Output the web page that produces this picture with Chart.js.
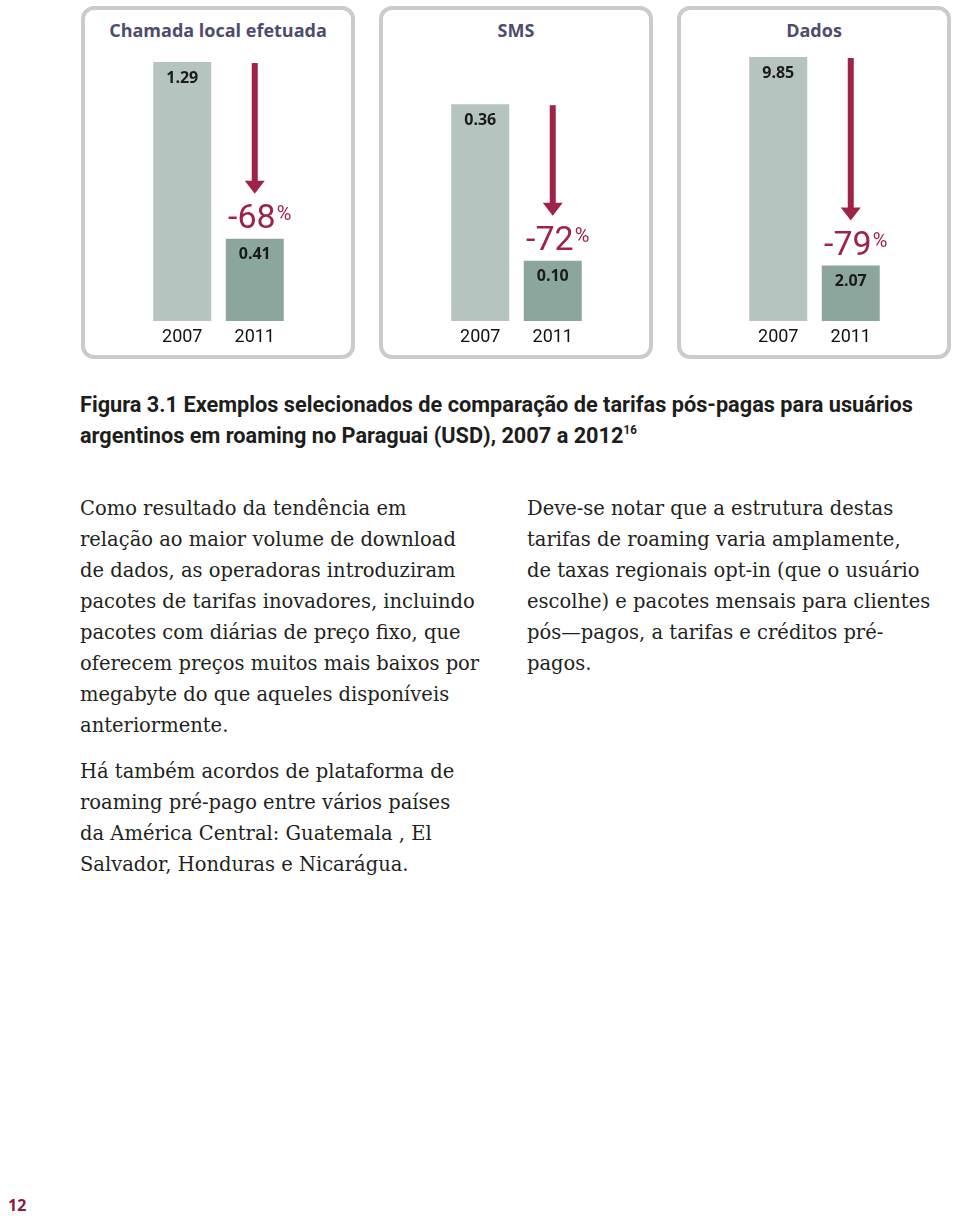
<!DOCTYPE html>
<html>
<head>
<meta charset="utf-8">
<script src="https://cdn.jsdelivr.net/npm/chart.js"></script>
<style>
  body { margin: 0; background: #fff; }
  #page { position: relative; width: 960px; height: 1218px; overflow: hidden; }
  .panel {
    position: absolute; top: 6px; width: 274px; height: 353px;
    box-sizing: border-box; border: 4px solid #c9cbce; border-radius: 13px;
  }
  .panel-title {
    position: absolute; top: 17px; width: 274px; text-align: center;
    font: bold 18px "Open Sans"; line-height: 26px; color: #4d4c6d;
  }
  canvas { position: absolute; top: 0; }
  #caption {
    position: absolute; left: 80px; top: 389px; white-space: nowrap;
    font: bold 22.5px Roboto; line-height: 31px; color: #1d1d1b;
    transform-origin: 0 0;
  }
  #caption span { display: inline-block; }
  #caption sup { font-size: 12px; vertical-align: 9px; line-height: 0; }
  .body {
    position: absolute; top: 493px; white-space: nowrap;
    font: 19.5px "DejaVu Serif"; line-height: 31px; color: #231f20;
  }
  .body p { margin: 0 0 15px 0; }
  #pageno {
    position: absolute; left: 8px; top: 1194px;
    font: bold 16px "Open Sans"; color: #8b1a3e;
  }
</style>
</head>
<body>
<div id="page">
  <div id="charts"></div>
  <div id="caption"><span id="cap1">Figura 3.1 Exemplos selecionados de comparação de tarifas pós-pagas para usuários</span><br>argentinos em roaming no Paraguai (USD), 2007 a 2012<sup>16</sup></div>
  <div class="body" style="left:80px">
    <p>Como resultado da tendência em<br>relação ao maior volume de download<br>de dados, as operadoras introduziram<br>pacotes de tarifas inovadores, incluindo<br>pacotes com diárias de preço fixo, que<br>oferecem preços muitos mais baixos por<br>megabyte do que aqueles disponíveis<br>anteriormente.</p>
    <p>Há também acordos de plataforma de<br>roaming pré-pago entre vários países<br>da América Central: Guatemala , El<br>Salvador, Honduras e Nicarágua.</p>
  </div>
  <div class="body" style="left:527px">
    <p>Deve-se notar que a estrutura destas<br>tarifas de roaming varia amplamente,<br>de taxas regionais opt-in (que o usuário<br>escolhe) e pacotes mensais para clientes<br>pós—pagos, a tarifas e créditos pré-<br>pagos.</p>
  </div>
  <div id="pageno">12</div>
</div>
<script>
const panelTitles = ["Chamada local efetuada", "SMS", "Dados"];
const years = ["2007", "2011"];
const rates2007 = [1.29, 0.36, 9.85];
const rates2011 = [0.41, 0.10, 2.07];
const yMax = [1.35, 0.45, 10.11];

const panelLeft = [81, 379, 677];
const red = "#9e2347";
const barColors = ["#b5c4bf", "#8ba69c"];

// condensed look for the caption: squeeze the first line to its width in the print
const cap = document.getElementById("caption");
const capWidth = document.getElementById("cap1").getBoundingClientRect().width;
cap.style.transform = "scaleX(" + (833 / capWidth) + ")";

// value labels inside the bars, the red arrow and the % change
const barNotes = {
  id: "barNotes",
  afterDatasetsDraw(chart) {
    const ctx = chart.ctx;
    const bars = chart.getDatasetMeta(0).data;
    const values = chart.data.datasets[0].data;
    ctx.save();
    ctx.font = "bold 16px 'Open Sans'";
    ctx.fillStyle = "#1a1a1a";
    ctx.textAlign = "center";
    ctx.textBaseline = "middle";
    bars.forEach((bar, i) => ctx.fillText(values[i].toFixed(2), bar.x, bar.y + 16));

    const x = bars[1].x;
    const top = bars[0].y + 1;
    const tip = bars[1].y - 45;
    ctx.fillStyle = red;
    ctx.fillRect(x - 3, top, 6, tip - top - 12);
    ctx.beginPath();
    ctx.moveTo(x - 10, tip - 13);
    ctx.lineTo(x + 10, tip - 13);
    ctx.lineTo(x, tip);
    ctx.closePath();
    ctx.fill();

    const change = String(Math.round((values[1] / values[0] - 1) * 100));
    ctx.textAlign = "left";
    ctx.textBaseline = "alphabetic";
    ctx.font = "34px Roboto";
    const w1 = ctx.measureText(change).width;
    ctx.font = "20px Roboto";
    const w2 = ctx.measureText("%").width;
    const start = x + 5 - (w1 + w2 + 1) / 2;
    const base = bars[1].y - 11;
    ctx.font = "34px Roboto";
    ctx.fillText(change, start, base);
    ctx.font = "20px Roboto";
    ctx.fillText("%", start + w1 + 1, base - 8);
    ctx.restore();
  }
};

const holder = document.getElementById("charts");
panelTitles.forEach((title, i) => {
  const panel = document.createElement("div");
  panel.className = "panel";
  panel.style.left = panelLeft[i] + "px";
  holder.appendChild(panel);

  const head = document.createElement("div");
  head.className = "panel-title";
  head.style.left = panelLeft[i] + "px";
  head.textContent = title;
  holder.appendChild(head);

  const canvas = document.createElement("canvas");
  canvas.width = 274;
  canvas.height = 358;
  canvas.style.left = panelLeft[i] + "px";
  holder.appendChild(canvas);

  new Chart(canvas, {
    type: "bar",
    data: {
      labels: years,
      datasets: [{
        data: [rates2007[i], rates2011[i]],
        backgroundColor: barColors,
        borderWidth: 0,
        barPercentage: 1,
        categoryPercentage: 0.8
      }]
    },
    options: {
      responsive: false,
      animation: false,
      layout: { padding: { left: 65, right: 64, top: 50, bottom: 0 } },
      plugins: { legend: { display: false }, tooltip: { enabled: false } },
      scales: {
        x: {
          grid: { display: false, drawTicks: false },
          border: { display: false },
          ticks: { padding: 6, color: "#111", font: { family: "Roboto", size: 18 } },
          afterFit: (scale) => { scale.height = 37; }
        },
        y: { display: false, min: 0, max: yMax[i] }
      }
    },
    plugins: [barNotes]
  });
});
</script>
</body>
</html>
